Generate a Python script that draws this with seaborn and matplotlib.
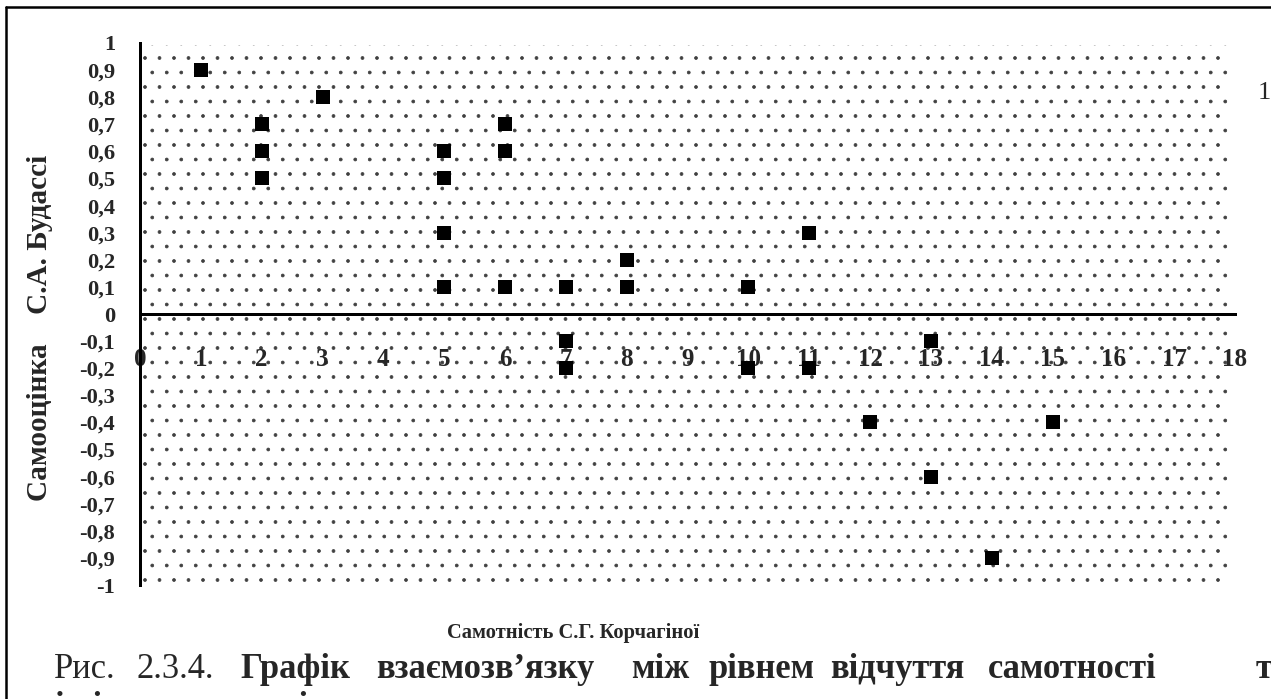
import matplotlib
matplotlib.use("Agg")
import matplotlib.pyplot as plt
import numpy as np
import pandas as pd
import seaborn as sns
from matplotlib.patches import Rectangle
from matplotlib.lines import Line2D
from matplotlib.ticker import FuncFormatter, MultipleLocator

# data
loneliness = [1, 2, 2, 2, 3, 5, 5, 5, 5, 6, 6, 6, 7, 7, 7, 8, 8, 10, 10, 11, 11, 12, 13, 13, 14, 15]
self_esteem = [0.9, 0.7, 0.6, 0.5, 0.8, 0.6, 0.5, 0.3, 0.1, 0.7, 0.6, 0.1, 0.1, -0.1, -0.2,
               0.2, 0.1, 0.1, -0.2, 0.3, -0.2, -0.4, -0.1, -0.6, -0.9, -0.4]

x_label = "Самотність С.Г. Корчагіної"
y_label = "Самооцінка    С.А. Будассі"
series_name = "1"
caption_words = ["Рис.", "2.3.4.", "Графік", "взаємозв’язку", "між", "рівнем",
                 "відчуття", "самотності", "та"]
caption_line2 = "і рівнем самооцінки"

df = pd.DataFrame({"x": loneliness, "y": self_esteem})

# the hatch cell is one inch, so dpi 87 gives a dot lattice about as dense as
# the excel 5% pattern; all sizes below are given in pixels and converted
DPI = 87
W, H = 1271, 699


def px(v):
    return v * 72 / DPI


sns.set_style("white")
plt.rcParams["font.family"] = ["Liberation Serif", "DejaVu Serif"]
plt.rcParams["hatch.linewidth"] = px(0.75)

fig = plt.figure(figsize=(W / DPI, H / DPI), dpi=DPI)
ax = fig.add_axes([140 / W, 1 - 585 / H, 1095 / W, 542 / H])

# dotted background
ax.add_patch(Rectangle((0, 0), 0.995, 0.996, transform=ax.transAxes, facecolor="none",
                       edgecolor="#404040", linewidth=0, hatch=".", zorder=0))

sns.scatterplot(data=df, x="x", y="y", marker="s", s=px(13.5) ** 2, color="black",
                edgecolor="black", linewidth=0, ax=ax, zorder=5, clip_on=False)

ax.set_xlim(0, 18)
ax.set_ylim(-1, 1)
ax.xaxis.set_major_locator(MultipleLocator(1))
ax.yaxis.set_major_locator(MultipleLocator(0.1))
comma = FuncFormatter(lambda v, pos: ("%g" % round(v, 1)).replace(".", ","))
ax.yaxis.set_major_formatter(comma)
ax.set_xlabel("")
ax.set_ylabel("")

for side in ["top", "right"]:
    ax.spines[side].set_visible(False)
ax.spines["bottom"].set_position(("data", 0))
for side in ["bottom", "left"]:
    ax.spines[side].set_linewidth(px(3))
    ax.spines[side].set_color("black")

ax.tick_params(axis="x", direction="out", length=px(6), width=px(3), pad=px(27.5),
               labelsize=px(25))
ax.tick_params(axis="y", direction="out", length=px(9), width=px(3), pad=px(15.8),
               labelsize=px(22.5))
for lab in ax.get_xticklabels() + ax.get_yticklabels():
    lab.set_fontweight("bold")

fig.text(573 / W, 1 - 633 / H, x_label, ha="center", va="center",
         fontsize=px(20.5), fontweight="bold")
fig.text(40 / W, 1 - 328 / H, y_label, ha="center", va="center",
         rotation=90, fontsize=px(29.2), fontweight="bold")
fig.text(1258 / W, 1 - 93 / H, series_name, ha="left", va="center", fontsize=px(26.3))

# caption, justified word by word (word centres, last word runs off the edge)
word_cx = [85, 175, 295, 485, 660, 762, 897, 1072]
for i, (w, xp) in enumerate(zip(caption_words[:-1], word_cx)):
    fig.text(xp / W, 1 - 678 / H, w, ha="center", va="baseline", fontsize=px(34.5),
             fontweight="normal" if i < 2 else "bold")
fig.text(1256 / W, 1 - 678 / H, caption_words[-1], ha="left", va="baseline",
         fontsize=px(34.5), fontweight="bold")
fig.text(55 / W, 1 - 716 / H, caption_line2, ha="left", va="baseline",
         fontsize=px(34.5), fontweight="bold")

# outer frame
fig.add_artist(Line2D([6 / W, 6 / W], [0, 1 - 7 / H], color="black", lw=px(2.5)))
fig.add_artist(Line2D([6 / W, 1], [1 - 7 / H, 1 - 7 / H], color="black", lw=px(2.5)))

fig.savefig("out.png", dpi=DPI)
